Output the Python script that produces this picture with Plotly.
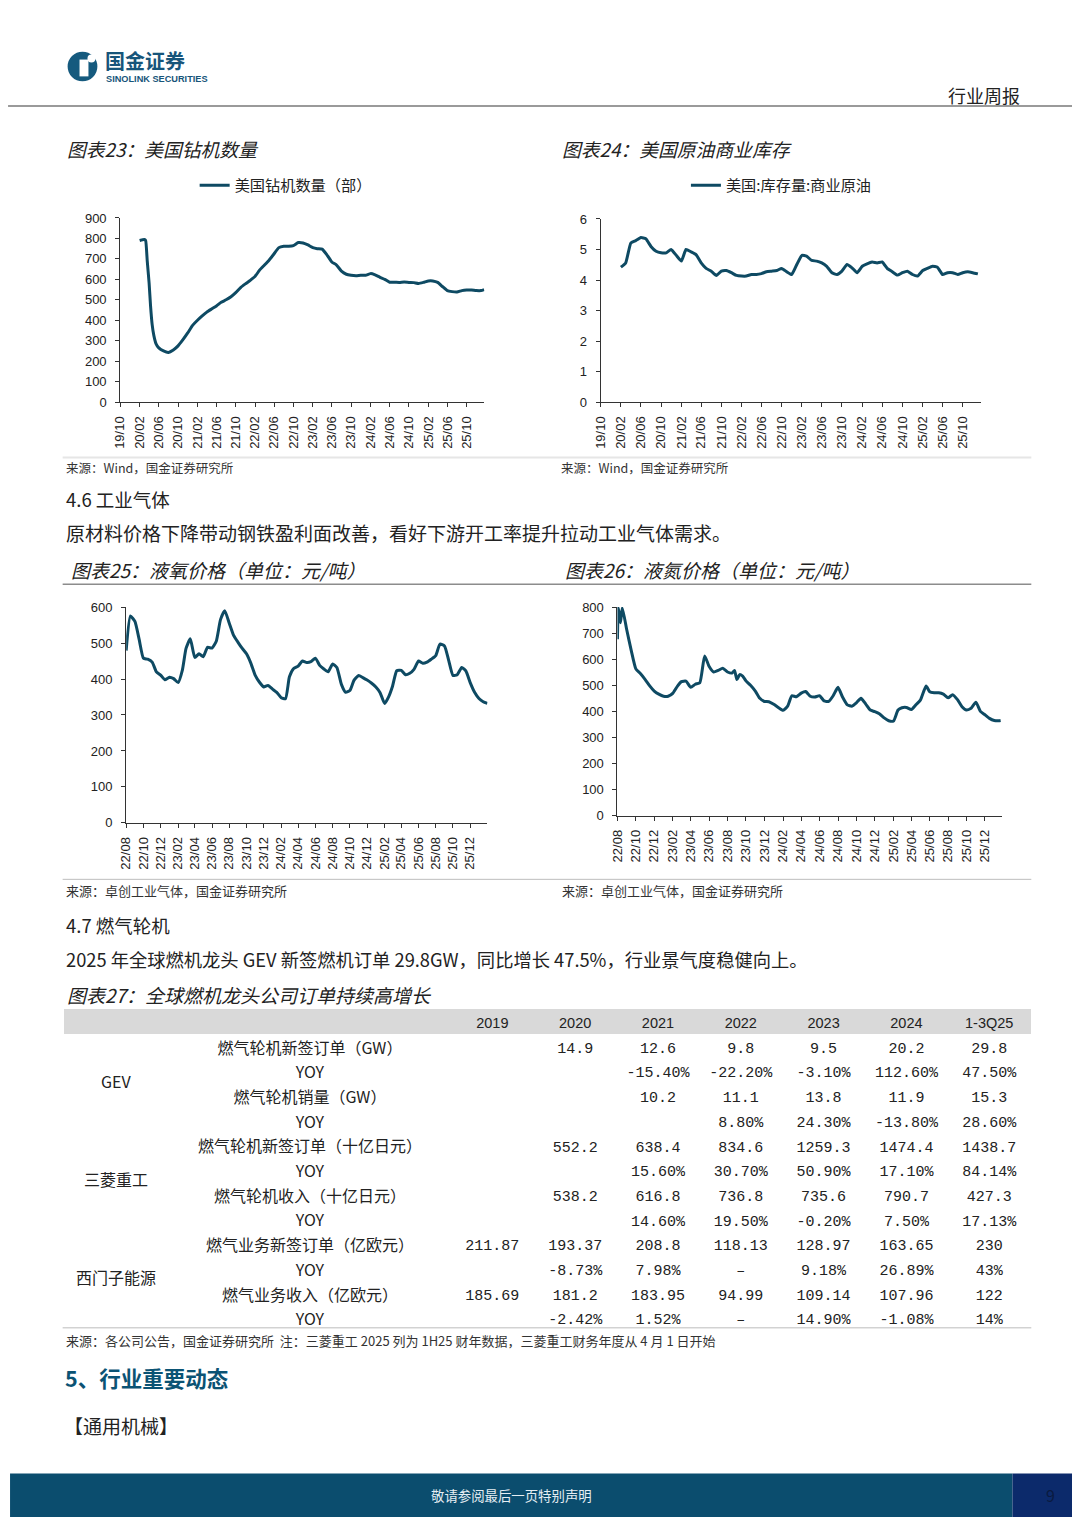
import plotly.graph_objects as go

# The page keeps the browser's default 8px body margin, so the figure is drawn 16px
# smaller than the window and reference pixel positions are shifted by that margin.
OX, OY = 8, 8
FW, FH = 1064, 1511
CJK = "Noto Sans CJK SC"
LAT = "Liberation Sans"
MONO = "Liberation Mono, Noto Sans CJK SC"
LINE_C = "#0e4a63"
TXT_C = "#222222"


def month_list(y0, m0, y1, m1):
    out = []
    y, m = y0, m0
    while (y, m) <= (y1, m1):
        out.append(f"{y}-{m:02d}-01")
        m += 1
        if m > 12:
            m, y = 1, y + 1
    return out


# ---------------- data: 图表23 美国钻机数量 ----------------
rig_dates = (["2020-02-01", "2020-03-01", "2020-03-10", "2020-03-20", "2020-04-01",
              "2020-04-10", "2020-04-20", "2020-05-01", "2020-05-15"]
             + month_list(2020, 6, 2026, 1) + ["2026-01-20"])
rig_values = [790, 795, 790, 690, 580, 470, 380, 325, 285,
              265, 250, 243, 255, 275, 305, 338,
              375, 400, 420, 440, 455, 470, 488, 500, 515, 535, 560, 578,
              595, 615, 645, 670, 695, 725, 755, 762, 762, 765, 780, 778,
              768, 755, 750, 748, 720, 685, 670, 640, 625, 620, 618, 620,
              620, 628, 622, 610, 600, 586, 586, 585, 587, 585, 584, 580,
              585, 592, 592, 585, 565, 545, 540, 538, 545, 548, 548, 545,
              545, 550]

# ---------------- data: 图表24 美国原油商业库存 ----------------
crude_dates = month_list(2020, 2, 2026, 1)
crude_values = [4.42, 4.56, 5.21, 5.29, 5.39, 5.35, 5.10, 4.94, 4.89, 4.89, 5.00,
                4.81, 4.62, 5.00, 4.92, 4.83, 4.56, 4.38, 4.29, 4.15, 4.29, 4.31, 4.24,
                4.15, 4.13, 4.13, 4.18, 4.18, 4.21, 4.27, 4.29, 4.31, 4.38, 4.27, 4.18,
                4.51, 4.81, 4.78, 4.64, 4.62, 4.56, 4.45, 4.24, 4.18, 4.29, 4.51, 4.40,
                4.24, 4.45, 4.53, 4.59, 4.56, 4.59, 4.38, 4.27, 4.16, 4.24, 4.29, 4.18,
                4.13, 4.31, 4.38, 4.45, 4.42, 4.18, 4.24, 4.24, 4.18, 4.24, 4.27, 4.24,
                4.20]

# ---------------- data: 图表25 液氧价格 ----------------
ox_dates = [d[:8] + day for d in month_list(2022, 8, 2026, 1) for day in ("01", "16")] + ["2026-01-31"]
ox_values = [479, 575, 560, 510, 458, 455, 447, 420, 411, 398,
             405, 401, 390, 425, 485, 512, 460, 470, 462, 488, 486, 505,
             565, 590, 555, 522, 502, 485, 470, 445, 410, 391, 378, 382,
             372, 363, 348, 345, 406, 429, 436, 450, 446, 448, 458, 438,
             428, 420, 442, 432, 385, 363, 368, 397, 410, 404, 397, 389,
             378, 362, 332, 352, 380, 423, 424, 412, 416, 427, 450, 444,
             447, 455, 465, 497, 492, 451, 410, 412, 432, 422, 390, 364,
             346, 337, 332]

# ---------------- data: 图表26 液氮价格 ----------------
n2_dates = ["2022-08-01", "2022-08-04", "2022-08-11", "2022-08-17", "2022-09-01", "2022-09-16",
            "2022-10-01", "2022-10-16", "2022-11-01", "2022-11-16", "2022-12-01", "2022-12-16",
            "2023-01-01", "2023-01-16", "2023-02-01", "2023-02-16", "2023-03-01", "2023-03-16",
            "2023-04-01", "2023-04-16", "2023-05-01", "2023-05-17", "2023-06-01", "2023-06-16",
            "2023-07-01", "2023-07-16", "2023-08-01", "2023-08-16", "2023-08-24", "2023-09-01",
            "2023-09-10", "2023-09-20", "2023-10-01", "2023-10-16", "2023-11-01", "2023-11-16",
            "2023-12-01", "2023-12-16", "2024-01-01", "2024-01-16", "2024-02-01", "2024-02-16",
            "2024-03-01", "2024-03-16", "2024-04-01", "2024-04-16", "2024-05-01", "2024-05-16",
            "2024-06-01", "2024-06-16", "2024-07-01", "2024-07-16", "2024-08-01", "2024-08-16",
            "2024-09-01", "2024-09-16", "2024-10-01", "2024-10-16", "2024-11-01", "2024-11-16",
            "2024-12-01", "2024-12-16", "2025-01-01", "2025-01-16", "2025-02-01", "2025-02-16",
            "2025-03-01", "2025-03-16", "2025-04-01", "2025-04-16", "2025-05-01", "2025-05-20",
            "2025-06-01", "2025-06-16", "2025-07-01", "2025-07-16", "2025-08-01", "2025-08-16",
            "2025-09-01", "2025-09-16", "2025-10-01", "2025-10-16", "2025-11-01", "2025-11-16",
            "2025-12-01", "2025-12-16", "2026-01-01", "2026-01-16", "2026-01-22"]
n2_values = [677, 797, 740, 797, 712, 632,
             563, 545, 522, 498, 478, 466,
             458, 458, 470, 497, 514, 516,
             492, 504, 510, 612, 572, 551,
             557, 565, 551, 547, 557, 522,
             541, 535, 517, 500, 478, 450,
             438, 437, 427, 415, 404, 420,
             460, 456, 470, 476, 458, 455,
             460, 440, 438, 460, 492, 455,
             425, 420, 433, 450, 428, 405,
             399, 391, 375, 364, 363, 405,
             414, 415, 407, 425, 443, 497,
             475, 471, 471, 466, 452, 464,
             445, 418, 405, 412, 435, 400,
             387, 373, 365, 364, 365]

# ---------------- data: 图表27 table ----------------
companies = ["GEV", "三菱重工", "西门子能源"]
table_years = ["2019", "2020", "2021", "2022", "2023", "2024", "1-3Q25"]
items = ["燃气轮机新签订单（GW）", "YOY", "燃气轮机销量（GW）", "YOY",
         "燃气轮机新签订单（十亿日元）", "YOY", "燃气轮机收入（十亿日元）", "YOY",
         "燃气业务新签订单（亿欧元）", "YOY", "燃气业务收入（亿欧元）", "YOY"]
col_2019 = ["", "", "", "", "", "", "", "", "211.87", "", "185.69", ""]
col_2020 = ["14.9", "", "", "", "552.2", "", "538.2", "", "193.37", "-8.73%", "181.2", "-2.42%"]
col_2021 = ["12.6", "-15.40%", "10.2", "", "638.4", "15.60%", "616.8", "14.60%", "208.8", "7.98%", "183.95", "1.52%"]
col_2022 = ["9.8", "-22.20%", "11.1", "8.80%", "834.6", "30.70%", "736.8", "19.50%", "118.13", "–", "94.99", "–"]
col_2023 = ["9.5", "-3.10%", "13.8", "24.30%", "1259.3", "50.90%", "735.6", "-0.20%", "128.97", "9.18%", "109.14", "14.90%"]
col_2024 = ["20.2", "112.60%", "11.9", "-13.80%", "1474.4", "17.10%", "790.7", "7.50%", "163.65", "26.89%", "107.96", "-1.08%"]
col_1_3q25 = ["29.8", "47.50%", "15.3", "28.60%", "1438.7", "84.14%", "427.3", "17.13%", "230", "43%", "122", "14%"]


def X(px):
    return (px - OX) / FW


def Y(py):
    return 1 - (py - OY) / FH


fig = go.Figure()

fig.add_trace(go.Scatter(x=rig_dates, y=rig_values, mode="lines", name="美国钻机数量（部）",
                         line=dict(color=LINE_C, width=3, shape="spline", smoothing=0.4),
                         xaxis="x", yaxis="y", legend="legend"))
fig.add_trace(go.Scatter(x=crude_dates, y=crude_values, mode="lines", name="美国:库存量:商业原油",
                         line=dict(color=LINE_C, width=3, shape="spline", smoothing=0.4),
                         xaxis="x2", yaxis="y2", legend="legend2"))
fig.add_trace(go.Scatter(x=ox_dates, y=ox_values, mode="lines", showlegend=False,
                         line=dict(color=LINE_C, width=3, shape="spline", smoothing=0.5),
                         xaxis="x3", yaxis="y3"))
fig.add_trace(go.Scatter(x=n2_dates, y=n2_values, mode="lines", showlegend=False,
                         line=dict(color=LINE_C, width=3, shape="spline", smoothing=0.5),
                         xaxis="x4", yaxis="y4"))

# table (company column left blank, names placed as centred labels over their merged blocks)
blank = [""] * len(items)
fig.add_trace(go.Table(
    domain=dict(x=[X(56), X(1031)], y=[Y(1337), Y(1012)]),
    columnwidth=[106, 284] + [83.4] * 7,
    header=dict(values=["", ""] + table_years, fill_color="#d9d9d9", line_color="rgba(0,0,0,0)",
                height=24.5, align="center", font=dict(family=LAT, size=14.5, color=TXT_C)),
    cells=dict(values=[blank, items, col_2019, col_2020, col_2021, col_2022, col_2023, col_2024, col_1_3q25],
               fill_color="white", line_color="rgba(0,0,0,0)", height=24.7, align="center",
               font=dict(family=[CJK, CJK] + [MONO] * 7, size=[15, 16] + [15] * 7, color=TXT_C)),
))

axis_common = dict(showline=True, linecolor="#333", linewidth=1, ticks="outside", ticklen=4,
                   tickcolor="#333", showgrid=False, zeroline=False,
                   tickfont=dict(family=LAT, size=13, color=TXT_C))

xdate = dict(axis_common, type="date", tickformat="%y/%m", tickangle=-90, ticklabelstandoff=4)
ynum = dict(axis_common, ticklabelstandoff=6)

fig.update_layout(
    width=FW, height=FH, margin=dict(l=0, r=0, t=0, b=0),
    paper_bgcolor="white", plot_bgcolor="white",
    xaxis=dict(xdate, domain=[X(113), X(480)], range=["2019-10-01", "2026-01-22"], tick0="2019-10-01", dtick="M4", anchor="y"),
    yaxis=dict(ynum, domain=[Y(399), Y(213)], range=[0, 900], dtick=100, anchor="x"),
    xaxis2=dict(xdate, domain=[X(597), X(980)], range=["2019-10-01", "2026-01-18"], tick0="2019-10-01", dtick="M4", anchor="y2"),
    yaxis2=dict(ynum, domain=[Y(399), Y(214)], range=[0, 6], dtick=1, anchor="x2"),
    xaxis3=dict(xdate, domain=[X(119), X(483)], range=["2022-08-01", "2026-01-31"], tick0="2022-08-01", dtick="M2", anchor="y3"),
    yaxis3=dict(ynum, domain=[Y(824), Y(606)], range=[0, 600], dtick=100, anchor="x3"),
    xaxis4=dict(xdate, domain=[X(614), X(1001)], range=["2022-08-01", "2026-01-25"], tick0="2022-08-01", dtick="M2", anchor="y4"),
    yaxis4=dict(ynum, domain=[Y(816.7), Y(606)], range=[0, 800], dtick=100, anchor="x4"),
    legend=dict(x=X(188), y=Y(180), xanchor="left", yanchor="middle", orientation="h",
                bgcolor="rgba(0,0,0,0)", font=dict(family=CJK, size=15.2, color=TXT_C)),
    legend2=dict(x=X(683), y=Y(180), xanchor="left", yanchor="middle", orientation="h",
                 bgcolor="rgba(0,0,0,0)", font=dict(family=CJK, size=15.2, color=TXT_C)),
)

ann = []


def txt(s, x, y, size, color=TXT_C, xanchor="left", family=CJK):
    ann.append(dict(text=s, x=X(x), y=Y(y), xref="paper", yref="paper", xanchor=xanchor,
                    yanchor="middle", showarrow=False, font=dict(size=size, color=color, family=family)))


# header
txt("<b>国金证券</b>", 96, 54, 20, color="#17557a")
txt("<b>SINOLINK SECURITIES</b>", 97, 72.5, 9.2, color="#17557a", family=LAT)
txt("行业周报", 1022, 89, 18, xanchor="right")

# chart titles & sources
txt("<i>图表23：美国钻机数量</i>", 57, 143, 18.8)
txt("<i>图表24：美国原油商业库存</i>", 556, 143, 18.8)
txt("来源：Wind，国金证券研究所", 56, 465, 12.5, color="#333")
txt("来源：Wind，国金证券研究所", 555, 465, 12.5, color="#333")

txt("4.6 工业气体", 56, 497, 18.5)
txt("原材料价格下降带动钢铁盈利面改善，看好下游开工率提升拉动工业气体需求。", 56, 531, 19)
txt("<i>图表25：液氧价格（单位：元/吨）</i>", 61, 568, 19)
txt("<i>图表26：液氮价格（单位：元/吨）</i>", 559, 568, 19)
txt("来源：卓创工业气体，国金证券研究所", 56, 892, 13, color="#333")
txt("来源：卓创工业气体，国金证券研究所", 556, 892, 13, color="#333")

txt("4.7 燃气轮机", 56, 927, 18.5)
txt("2025 年全球燃机龙头 GEV 新签燃机订单 29.8GW，同比增长 47.5%，行业景气度稳健向上。", 56, 961, 18.3)
txt("<i>图表27：全球燃机龙头公司订单持续高增长</i>", 57, 997, 19)

for name, yc in zip(companies, [1085, 1184, 1283]):
    txt(name, 109, yc, 16, xanchor="center")

txt("来源：各公司公告，国金证券研究所  注：三菱重工 2025 列为 1H25 财年数据，三菱重工财务年度从 4 月 1 日开始", 56, 1347, 13, color="#333")
txt("<b>5、行业重要动态</b>", 55, 1384, 21.5, color="#0b5374")
txt("【通用机械】", 54, 1433, 19)

# footer
txt("敬请参阅最后一页特别声明", 507, 1503, 13.4, color="#e6eef3", xanchor="center")
txt("9", 1050, 1503, 16, color="#0a1a40", xanchor="center")

fig.update_layout(annotations=ann)

shapes = []


def hline(x0, x1, y, color, width):
    shapes.append(dict(type="line", xref="paper", yref="paper", x0=X(x0), x1=X(x1), y0=Y(y), y1=Y(y),
                       line=dict(color=color, width=width)))


def rect(x0, y0, x1, y1, color):
    shapes.append(dict(type="rect", xref="paper", yref="paper", x0=X(x0), x1=X(x1), y0=Y(y1), y1=Y(y0),
                       fillcolor=color, line=dict(width=0), layer="below"))


hline(0, 1080, 100, "#9a9a9a", 2)
hline(55, 1031, 455, "#e6e6e6", 2)
hline(55, 1031, 583, "#8c8c8c", 1.5)
hline(55, 1031, 881, "#bdbdbd", 1)
hline(55, 1031, 1334, "#bdbdbd", 1)
rect(2, 1481, 1012, 1525, "#0b4d6e")
rect(1012, 1481, 1080, 1525, "#0c2a6b")
# logo
shapes.append(dict(type="circle", xref="paper", yref="paper", x0=X(60), x1=X(90), y0=Y(75), y1=Y(45),
                   fillcolor="#155a7e", line=dict(width=0)))
shapes.append(dict(type="rect", xref="paper", yref="paper", x0=X(72), x1=X(81), y0=Y(70), y1=Y(53),
                   fillcolor="white", line=dict(width=0)))
shapes.append(dict(type="circle", xref="paper", yref="paper", x0=X(80), x1=X(88), y0=Y(56), y1=Y(48),
                   fillcolor="white", line=dict(width=0)))
fig.update_layout(shapes=shapes)

fig.write_html("out.html", config={"displayModeBar": False})
